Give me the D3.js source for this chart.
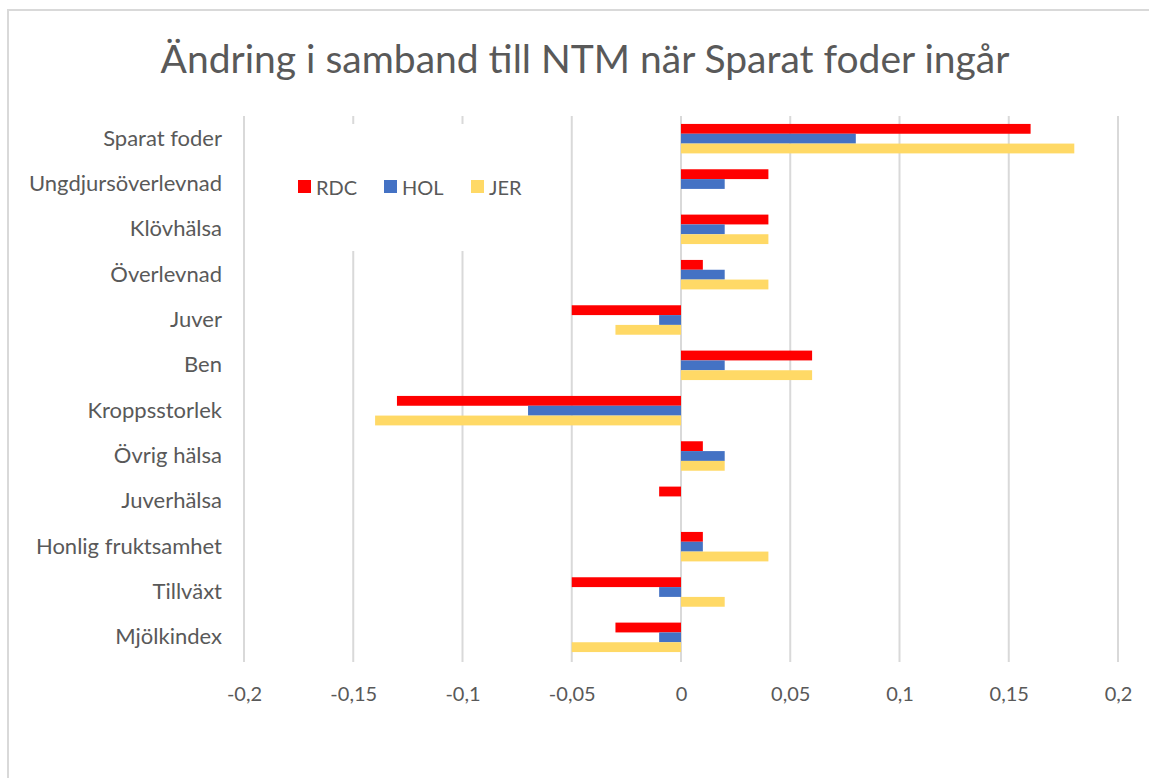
<!DOCTYPE html>
<meta charset="utf-8">
<script src="https://cdn.jsdelivr.net/npm/d3@7"></script>
<style>
  body { margin: 0; background: #fff; }
  text { font-family: Lato, "Open Sans", sans-serif; fill: #595959; }
</style>
<body>
<div id="chart"></div>
<script>
  // categories, top to bottom
  var categories = ["Sparat foder", "Ungdjursöverlevnad", "Klövhälsa", "Överlevnad", "Juver", "Ben",
    "Kroppsstorlek", "Övrig hälsa", "Juverhälsa", "Honlig fruktsamhet", "Tillväxt", "Mjölkindex"]
  var seriesNames = ["RDC", "HOL", "JER"]
  var seriesColors = ["#FF0000", "#4472C4", "#FFD966"]

  // values per series, same order as categories
  var rdcValues = [0.16, 0.04, 0.04, 0.01, -0.05, 0.06, -0.13, 0.01, -0.01, 0.01, -0.05, -0.03]
  var holValues = [0.08, 0.02, 0.02, 0.02, -0.01, 0.02, -0.07, 0.02, 0, 0.01, -0.01, -0.01]
  var jerValues = [0.18, 0, 0.04, 0.04, -0.03, 0.06, -0.14, 0.02, 0, 0.04, 0.02, -0.05]

  var xTicks = [-0.2, -0.15, -0.1, -0.05, 0, 0.05, 0.1, 0.15, 0.2]

  var W = 1149, H = 778
  var margin = {top: 116, right: 31, bottom: 118, left: 244}

  var svg = d3.select("#chart").append("svg")
      .attr("width", W)
      .attr("height", H)

  // chart area border
  svg.append("rect")
      .attr("x", 8).attr("y", 10)
      .attr("width", W + 10).attr("height", H + 10)
      .attr("fill", "#fff")
      .attr("stroke", "#d9d9d9")
      .attr("stroke-width", 2)

  // title
  svg.append("text")
      .attr("x", 585)
      .attr("y", 73)
      .attr("text-anchor", "middle")
      .style("font-size", "39px")
      .text("Ändring i samband till NTM när Sparat foder ingår")

  var x = d3.scaleLinear()
      .domain([-0.2, 0.2])
      .range([margin.left, W - margin.right])

  var y = d3.scaleBand()
      .domain(categories)
      .range([margin.top, H - margin.bottom])
      .paddingInner(0.35)
      .paddingOuter(0.175)

  var ySub = d3.scaleBand()
      .domain(seriesNames)
      .range([0, y.bandwidth()])

  // vertical gridlines
  svg.append("g")
    .selectAll("line")
    .data(xTicks)
    .enter()
    .append("line")
      .attr("x1", function(d) { return x(d) })
      .attr("x2", function(d) { return x(d) })
      .attr("y1", margin.top)
      .attr("y2", H - margin.bottom + 2)
      .attr("stroke", "#d9d9d9")
      .attr("stroke-width", 2)

  // x tick labels with decimal comma
  var fmt = function(d) { return String(+d.toFixed(2)).replace(".", ",") }
  var xAxis = svg.append("g")
      .attr("transform", "translate(0," + (H - margin.bottom) + ")")
      .call(d3.axisBottom(x).tickValues(xTicks).tickFormat(fmt).tickSize(0).tickPadding(27))
  xAxis.select(".domain").remove()
  xAxis.selectAll("text")
      .style("font-size", "20px")
      .style("font-family", "Lato, sans-serif")
      .attr("fill", "#595959")

  // category labels
  var yAxis = svg.append("g")
      .attr("transform", "translate(" + (margin.left - 22) + ",0)")
      .call(d3.axisLeft(y).tickSize(0).tickPadding(0))
  yAxis.select(".domain").remove()
  yAxis.selectAll("text")
      .style("font-size", "22px")
      .style("font-family", "Lato, sans-serif")
      .attr("fill", "#595959")

  // legend box sits over the gridlines
  var legend = svg.append("g")
  legend.append("rect")
      .attr("x", 252).attr("y", 124)
      .attr("width", 300).attr("height", 127)
      .attr("fill", "#fff")

  var legendX = [298, 384, 471]
  seriesNames.forEach(function(name, i) {
    legend.append("rect")
        .attr("x", legendX[i]).attr("y", 180)
        .attr("width", 13).attr("height", 13)
        .attr("fill", seriesColors[i])
    legend.append("text")
        .attr("x", legendX[i] + 18).attr("y", 195)
        .style("font-size", "20px")
        .text(name)
  })

  // bars
  var seriesValues = [rdcValues, holValues, jerValues]
  var rows = []
  categories.forEach(function(c, ci) {
    seriesNames.forEach(function(s, si) {
      rows.push({cat: c, series: s, value: seriesValues[si][ci], color: seriesColors[si]})
    })
  })

  svg.append("g")
    .selectAll("rect")
    .data(rows.filter(function(d) { return d.value !== 0 }))
    .enter()
    .append("rect")
      .attr("x", function(d) { return x(Math.min(0, d.value)) })
      .attr("y", function(d) { return y(d.cat) + ySub(d.series) })
      .attr("width", function(d) { return Math.abs(x(d.value) - x(0)) })
      .attr("height", ySub.bandwidth())
      .attr("fill", function(d) { return d.color })
</script>
</body>
